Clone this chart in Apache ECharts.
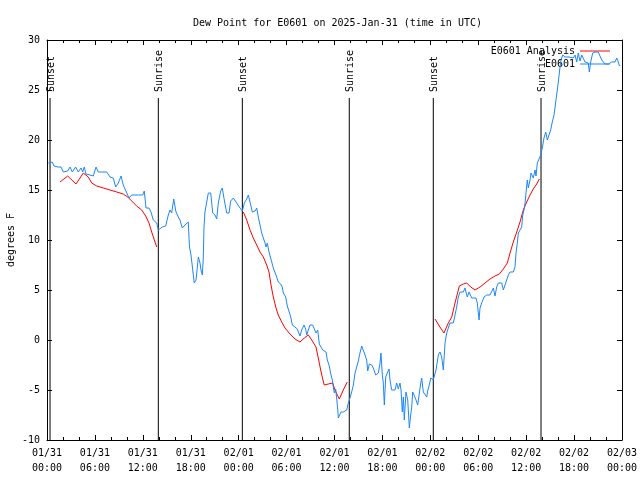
<!DOCTYPE html>
<html>
<head>
<meta charset="utf-8">
<script src="https://cdn.jsdelivr.net/npm/echarts@6/dist/echarts.min.js"></script>
<style>html,body{margin:0;padding:0;background:#fff}#c{width:640px;height:480px}</style>
</head>
<body>
<div id="c"></div>
<script>
// Hours since 2025-01-31 00:00 UTC
const xTickLabels = ['01/31\n00:00','01/31\n06:00','01/31\n12:00','01/31\n18:00','02/01\n00:00','02/01\n06:00','02/01\n12:00','02/01\n18:00','02/02\n00:00','02/02\n06:00','02/02\n12:00','02/02\n18:00','02/03\n00:00'];

const obsHours = [0.16,0.38,0.66,0.88,1.38,1.75,2.04,2.25,2.59,2.88,3.17,3.59,3.92,4.26,4.47,4.67,4.88,5.38,5.80,6.14,6.42,6.85,7.48,7.89,8.30,8.60,8.93,9.27,9.55,9.77,9.98,10.27,10.61,11.43,11.98,12.18,12.40,12.77,13.02,13.31,13.74,13.94,14.15,14.44,14.86,15.19,15.40,15.61,15.87,16.12,16.44,16.65,16.94,17.28,17.69,17.84,18.03,18.24,18.44,18.66,18.95,19.16,19.28,19.45,19.57,19.66,19.78,20.00,20.20,20.50,20.75,21.04,21.25,21.45,21.75,21.95,22.20,22.50,22.79,23.00,23.33,23.45,23.75,24.17,24.46,24.71,25.01,25.21,25.42,25.71,26.05,26.26,26.46,26.67,26.88,27.09,27.30,27.42,27.59,27.80,28.01,28.14,28.34,28.55,28.76,28.96,29.26,29.46,29.59,29.89,30.09,30.30,30.52,30.72,31.05,31.34,31.68,31.89,32.18,32.39,32.52,32.72,32.93,33.27,33.47,33.68,33.90,34.10,34.31,34.52,34.72,34.94,35.10,35.35,35.53,35.73,35.85,35.98,36.15,36.28,36.40,36.48,36.60,36.81,37.10,37.53,37.73,37.94,38.15,38.36,38.57,38.78,38.98,39.19,39.41,39.61,39.82,40.03,40.16,40.36,40.66,40.86,41.16,41.49,41.70,41.82,41.99,42.11,42.24,42.41,42.61,42.83,42.95,43.16,43.58,43.79,43.99,44.20,44.33,44.49,44.62,44.74,44.95,45.17,45.37,45.54,45.67,45.79,45.96,46.21,46.42,46.62,46.80,46.92,47.12,47.33,47.55,47.67,47.87,48.05,48.17,48.37,48.71,49.00,49.21,49.42,49.63,49.84,50.05,50.25,50.46,50.88,51.09,51.30,51.50,51.72,52.13,52.34,52.63,52.84,53.18,53.38,53.72,53.88,54.10,54.22,54.43,54.72,55.06,55.47,55.69,55.89,56.10,56.31,56.51,56.72,56.94,57.14,57.35,57.56,57.77,57.98,58.19,58.39,58.60,58.73,58.89,59.02,59.23,59.44,59.57,59.73,59.86,59.98,60.14,60.27,60.48,60.61,60.82,60.89,61.11,61.23,61.40,61.61,61.82,62.02,62.23,62.45,62.65,62.86,63.07,63.27,63.49,63.70,63.90,64.08,64.24,64.36,64.58,64.86,65.08,65.36,65.58,65.90,66.12,66.33,66.53,66.74,66.96,67.16,67.37,67.58,67.78,67.91,68.08,68.33,68.62,69.03,69.25,69.46,69.87,70.29,70.71,71.13,71.34,71.54,71.67,71.75];
const obsDewF = [17.7,17.6,17.8,17.4,17.3,17.3,16.8,16.7,16.9,17.3,16.8,17.3,16.8,17.2,16.8,17.3,16.6,16.5,16.4,17.3,16.8,16.8,16.8,16.3,16.2,15.3,15.7,16.4,15.5,15.1,15.2,14.2,14.5,14.5,14.5,14.9,13.2,13.2,12.8,12.0,11.7,11.0,11.2,11.3,11.4,12.5,13.0,12.7,14.1,12.9,12.3,12.0,11.2,11.5,11.8,9.3,8.5,8.3,5.7,6.0,8.3,7.7,7.0,6.5,8.2,11.3,12.8,12.7,14.7,14.7,12.7,12.5,12.1,13.7,14.9,15.2,14.0,12.7,12.7,13.9,14.2,14.3,13.7,13.2,12.9,13.7,14.1,14.5,13.8,12.8,12.9,13.2,12.3,11.5,10.7,10.5,9.7,9.3,9.7,8.8,8.2,8.3,7.2,7.3,6.3,5.8,5.6,5.3,4.7,4.3,3.4,3.3,2.3,1.5,1.3,1.1,0.4,1.0,1.5,1.1,0.5,1.0,1.5,1.5,1.3,0.7,1.0,-0.4,-0.5,-1.0,-0.8,-1.2,-2.0,-2.6,-3.4,-4.0,-4.7,-5.3,-4.9,-5.9,-6.9,-7.8,-7.9,-7.2,-7.2,-7.0,-6.3,-5.8,-5.2,-4.5,-3.3,-2.7,-2.1,-1.3,-0.6,-0.8,-1.5,-2.0,-3.1,-2.4,-2.5,-2.8,-3.5,-3.3,-2.3,-1.3,-3.5,-4.3,-6.5,-3.7,-3.3,-2.9,-4.0,-5.0,-5.0,-4.3,-4.9,-4.3,-5.0,-7.2,-5.7,-8.0,-5.2,-6.0,-8.8,-7.5,-6.7,-5.2,-5.5,-6.0,-6.5,-6.5,-4.3,-3.8,-5.2,-5.2,-5.7,-5.1,-4.5,-3.8,-3.7,-4.0,-3.0,-1.5,-1.2,-1.7,-3.0,-0.3,0.7,1.2,1.7,1.7,2.5,3.3,4.3,4.8,4.8,5.2,4.3,4.8,4.2,4.4,4.2,3.7,2.0,3.2,3.7,4.3,4.5,4.5,4.3,5.2,4.4,5.3,5.7,5.8,5.7,5.0,5.5,6.0,6.5,6.8,7.0,6.8,7.3,8.7,9.7,10.7,10.7,11.3,12.5,13.0,13.7,14.7,16.0,15.2,16.0,16.7,16.8,16.2,17.0,16.4,17.7,17.8,18.5,19.2,20.2,20.8,20.0,20.5,21.0,21.8,22.5,23.8,25.0,26.2,27.3,28.0,28.5,28.3,28.2,28.3,28.4,28.2,28.5,27.8,28.7,27.9,28.5,28.3,27.8,28.0,27.7,26.8,27.8,28.7,28.8,28.8,28.7,28.0,27.6,27.6,27.8,27.8,28.2,27.8,27.4,27.5];

const anaHours = [1.63,2.59,3.63,4.55,5.17,5.60,6.22,7.05,7.89,8.73,9.55,10.11,10.61,11.23,11.86,12.36,12.77,13.11,13.44,13.74,19.0,24.58,25.01,25.42,25.83,26.26,26.67,27.09,27.51,27.80,28.05,28.34,28.68,28.96,29.39,29.80,30.43,31.05,31.68,32.22,32.72,33.15,33.68,33.97,34.27,34.52,34.72,35.22,35.78,36.06,36.60,37.10,37.60,43.0,48.59,49.12,49.71,50.25,50.68,51.09,51.38,51.63,52.13,52.56,53.06,53.59,54.22,54.85,55.47,56.10,56.64,57.14,57.64,57.98,58.39,58.82,59.23,59.64,60.07,60.48,60.89,61.32,61.65];
const anaDewF = [15.8,16.4,15.6,16.7,16.3,15.7,15.4,15.2,15.0,14.8,14.6,14.3,13.9,13.4,13.0,12.4,11.7,10.8,10.0,9.3,null,12.8,12.0,11.0,10.2,9.5,8.8,8.3,7.5,6.8,5.5,4.3,3.2,2.5,1.8,1.2,0.6,0.1,-0.2,0.2,0.5,0.0,-0.7,-1.8,-3.0,-3.9,-4.5,-4.4,-4.3,-5.0,-5.9,-5.0,-4.2,null,2.1,1.4,0.7,1.7,2.3,3.7,4.6,5.4,5.6,5.7,5.3,5.0,5.3,5.7,6.1,6.4,6.6,7.1,7.7,8.7,9.8,10.8,11.8,13.0,13.8,14.5,15.1,15.6,16.1];

const sunHours = [0.38,13.94,24.46,37.85,48.37,61.86];
const sunLabels = ['Sunset','Sunrise','Sunset','Sunrise','Sunset','Sunrise'];

const FONT = 'DejaVu Sans Mono';
const chart = echarts.init(document.getElementById('c'), null, {renderer:'canvas'});

const xCommon = {
  type:'value', min:0, max:72, interval:6,
  axisLine:{show:true, onZero:false, lineStyle:{color:'#000', width:1}},
  axisTick:{show:true, inside:true, length:5, lineStyle:{color:'#000'}},
  minorTick:{show:true, splitNumber:3, length:3, lineStyle:{color:'#000'}},
  splitLine:{show:false}, minorSplitLine:{show:false}
};
const yCommon = {
  type:'value', min:-10, max:30, interval:5,
  axisLine:{show:true, onZero:false, lineStyle:{color:'#000', width:1}},
  axisTick:{show:true, inside:true, length:5, lineStyle:{color:'#000'}},
  splitLine:{show:false}
};
const legendCommon = {right:30, align:'right', icon:'rect', itemWidth:30, itemHeight:1,
  textStyle:{fontFamily:FONT, fontSize:10, color:'#000'}, selectedMode:false, padding:0};

chart.setOption({
  animation:false,
  backgroundColor:'#fff',
  title:{text:'Dew Point for E0601 on 2025-Jan-31 (time in UTC)', left:188, top:13,
    textStyle:{fontFamily:FONT, fontSize:10, fontWeight:'normal', color:'#000'}},
  grid:{left:47, right:18, top:40, bottom:40, show:false, containLabel:false, outerBoundsMode:'none'},
  legend:[
    Object.assign({data:['E0601 Analysis'], top:46}, legendCommon),
    Object.assign({data:['E0601'], top:59}, legendCommon)
  ],
  xAxis:[
    Object.assign({}, xCommon, {position:'bottom',
      axisLabel:{show:true, margin:6, fontFamily:FONT, fontSize:10, color:'#000', lineHeight:15,
        formatter:(v)=>xTickLabels[Math.round(v/6)]}}),
    Object.assign({}, xCommon, {position:'top', axisLabel:{show:false}})
  ],
  yAxis:[
    Object.assign({}, yCommon, {position:'left', name:'degrees F', nameLocation:'middle', nameGap:31, nameRotate:90,
      nameMoveOverlap:false,
      nameTextStyle:{fontFamily:FONT, fontSize:10, color:'#000'},
      axisLabel:{show:true, margin:7, fontFamily:FONT, fontSize:10, color:'#000'}}),
    Object.assign({}, yCommon, {position:'right', axisLabel:{show:false}})
  ],
  series:[
    {
      type:'custom', name:'sun', xAxisIndex:0, yAxisIndex:0, silent:true, z:1,
      data: sunHours.map((t,i)=>[t,i]),
      encode:{x:0},
      renderItem:(params, api)=>{
        const t = api.value(0);
        const lbl = sunLabels[api.value(1)];
        const top = api.coord([t, 24.2]);
        const bot = api.coord([t, -10]);
        const lab = api.coord([t, 24.8]);
        return {type:'group', children:[
          {type:'line', shape:{x1:top[0], y1:top[1], x2:bot[0], y2:bot[1]}, style:{stroke:'#000', lineWidth:1}},
          {type:'text', x:lab[0]+1, y:lab[1], rotation:Math.PI/2,
            style:{text:lbl, textAlign:'left', textVerticalAlign:'middle', fontFamily:FONT, fontSize:10, fill:'#000'}}
        ]};
      }
    },
    {
      type:'line', name:'E0601 Analysis', data: anaHours.map((t,i)=>[t, anaDewF[i]]),
      showSymbol:false, symbol:'none', connectNulls:false, z:3,
      lineStyle:{color:'#ff0000', width:1}, itemStyle:{color:'#ff0000'}
    },
    {
      type:'line', name:'E0601', data: obsHours.map((t,i)=>[t, obsDewF[i]]),
      showSymbol:false, symbol:'none', z:4,
      lineStyle:{color:'#1e88f5', width:1}, itemStyle:{color:'#1e88f5'}
    }
  ]
});
</script>
</body>
</html>
